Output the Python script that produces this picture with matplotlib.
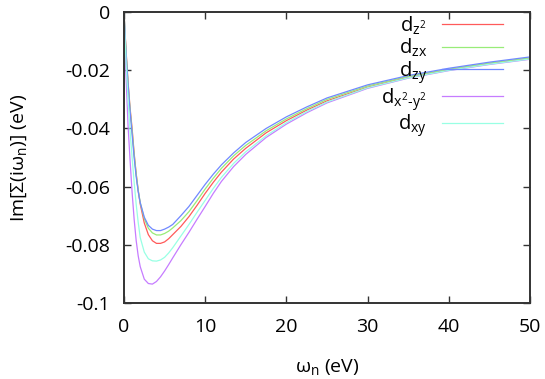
import matplotlib
matplotlib.use('Agg')
import matplotlib.pyplot as plt

# Matsubara frequencies (eV)
omega = [0, 0.25, 0.5, 0.75, 1, 1.25, 1.5, 1.75, 2, 2.5, 3, 3.5, 4, 4.5, 5, 5.5, 6, 7, 8, 9,
         10, 11, 12, 13.5, 15, 17.5, 20, 22.5, 25, 30, 35, 40, 45, 50]

# Im Sigma(i w_n) per orbital (eV)
im_dz2 = [0, -0.013, -0.024, -0.033, -0.040, -0.0485, -0.0555, -0.0613, -0.0660, -0.0725,
          -0.0765, -0.0786, -0.0795, -0.0795, -0.0790, -0.0779, -0.0765, -0.0737, -0.0703, -0.0664,
          -0.0623, -0.0585, -0.0550, -0.0505, -0.0468, -0.0415, -0.0373, -0.0337, -0.0305,
          -0.0258, -0.0224, -0.0198, -0.0177, -0.0159]
im_dzx = [0, -0.0135, -0.0245, -0.0335, -0.041, -0.0490, -0.0557, -0.0612, -0.0655, -0.0710,
          -0.0743, -0.0759, -0.0766, -0.0766, -0.0761, -0.0753, -0.0742, -0.0717, -0.0686, -0.0648,
          -0.0608, -0.0571, -0.0537, -0.0494, -0.0458, -0.0408, -0.0367, -0.0332, -0.0300,
          -0.0254, -0.0221, -0.0196, -0.0175, -0.0157]
im_dzy = [0, -0.014, -0.025, -0.034, -0.042, -0.0500, -0.0565, -0.0617, -0.0655, -0.0705,
          -0.0733, -0.0746, -0.0751, -0.0751, -0.0746, -0.0739, -0.0730, -0.0700, -0.0668, -0.0630,
          -0.0592, -0.0557, -0.0525, -0.0484, -0.0448, -0.0400, -0.0360, -0.0326, -0.0295,
          -0.0250, -0.0218, -0.0193, -0.0172, -0.0154]
im_dx2y2 = [0, -0.022, -0.039, -0.051, -0.062, -0.0712, -0.0785, -0.0838, -0.0875, -0.0918,
            -0.0933, -0.0935, -0.0926, -0.0910, -0.0890, -0.0868, -0.0845, -0.0800, -0.0757, -0.0712,
            -0.0668, -0.0623, -0.0582, -0.0531, -0.0489, -0.0431, -0.0385, -0.0346, -0.0312,
            -0.0262, -0.0227, -0.0201, -0.0180, -0.0162]
im_dxy = [0, -0.017, -0.030, -0.041, -0.050, -0.0585, -0.066, -0.0723, -0.0775, -0.0825,
          -0.0848, -0.0855, -0.0856, -0.0852, -0.0843, -0.0828, -0.0810, -0.0770, -0.0730, -0.0688,
          -0.0647, -0.0606, -0.0568, -0.0520, -0.0480, -0.0425, -0.0380, -0.0342, -0.0309,
          -0.0260, -0.0226, -0.0200, -0.0179, -0.0161]

labels = [r'd$_{z^2}$', r'd$_{zx}$', r'd$_{zy}$', r'd$_{x^2\text{-}y^2}$', r'd$_{xy}$']
series = [im_dz2, im_dzx, im_dzy, im_dx2y2, im_dxy]
colors = ['#ff5a5a', '#98ec78', '#7088ff', '#c67cff', '#98ffe4']

xticks = [0, 10, 20, 30, 40, 50]
yticks = [0, -0.02, -0.04, -0.06, -0.08, -0.1]
ytick_labels = ['0', '-0.02', '-0.04', '-0.06', '-0.08', '-0.1']

plt.rcParams['font.family'] = ['Open Sans', 'DejaVu Sans']
plt.rcParams['mathtext.fontset'] = 'custom'
plt.rcParams['mathtext.rm'] = 'Open Sans'
plt.rcParams['mathtext.it'] = 'Open Sans'
plt.rcParams['axes.unicode_minus'] = False

fig = plt.figure(figsize=(5.45, 3.79), dpi=100)
ax = fig.add_axes([0.2275, 0.2005, 0.745, 0.7675])

for y, lab, c in zip(series, labels, colors):
    ax.plot(omega, y, color=c, lw=0.9, label=lab)

ax.set_xlim(0, 50)
ax.set_ylim(-0.1, 0)
ax.set_xticks(xticks)
ax.set_yticks(yticks)
ax.set_yticklabels(ytick_labels)
ax.tick_params(direction='in', top=True, right=True, length=5, width=1,
               labelsize=14, color='#333333')
ax.tick_params(axis='y', pad=10)
ax.tick_params(axis='x', pad=11)
for s in ax.spines.values():
    s.set_linewidth(1.4)
    s.set_color('#333333')

ax.set_xlabel(r'ω$_n$ (eV)', fontsize=14, labelpad=15)
ax.set_ylabel(r'Im[Σ(iω$_n$)] (eV)', fontsize=14, labelpad=26)

ax.legend(loc='upper right', bbox_to_anchor=(0.953, 1.02), frameon=False, markerfirst=False,
          fontsize=14.5, handlelength=3.0, handletextpad=0.75, labelspacing=0.0,
          borderaxespad=0)

fig.savefig('out.png', dpi=100)
